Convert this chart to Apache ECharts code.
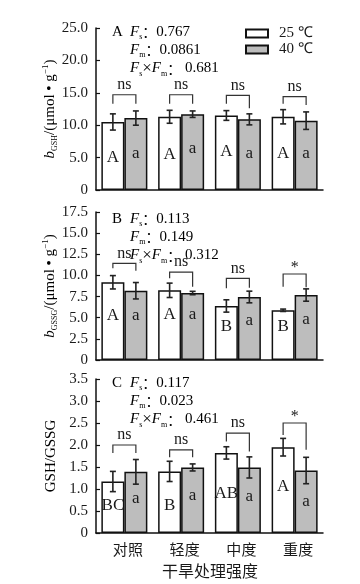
<!DOCTYPE html>
<html><head><meta charset="utf-8">
<script src="https://cdn.jsdelivr.net/npm/echarts@6/dist/echarts.min.js"></script>
<style>html,body{margin:0;padding:0;background:#fff}#c{width:360px;height:584px}</style>
</head><body><div id="c"></div>
<script>
// ---------- data ----------
const categories = ['对照', '轻度', '中度', '重度'];
const seriesNames = ['25 ℃', '40 ℃'];

// Panel A: GSH content
const gsh25 = [10.5, 11.3, 11.5, 11.3];
const gsh40 = [11.1, 11.7, 10.9, 10.7];
const gsh25Err = [1.25, 1.0, 0.75, 1.1];
const gsh40Err = [1.1, 0.5, 0.85, 1.35];
const gshBracketTop = [14.7, 14.7, 14.6, 14.4];
const gshBracketLeft = [13.3, 13.3, 13.3, 13.3];
const gshBracketRight = [13.3, 13.3, 12.6, 13.1];
const gshSig = ['ns', 'ns', 'ns', 'ns'];
const gshLetter25 = ['A', 'A', 'A', 'A'];
const gshLetter40 = ['a', 'a', 'a', 'a'];
const gshLetterY25 = [5.0, 5.4, 5.9, 5.6];
const gshLetterY40 = [5.7, 6.4, 5.7, 5.6];
const gshTicks = [0, 25, 5];
const gshStats = ['A', '0.767', '0.0861', '0.681'];

// Panel B: GSSG content
const gssg25 = [9.19, 8.24, 6.39, 5.88];
const gssg40 = [8.19, 7.92, 7.45, 7.68];
const gssg25Err = [0.79, 0.85, 0.73, 0.14];
const gssg40Err = [0.97, 0.2, 0.69, 0.73];
const gssgBracketTop = [11.43, 10.4, 9.66, 10.17];
const gssgBracketLeft = [10.84, 9.66, 8.48, 8.67];
const gssgBracketRight = [10.56, 8.67, 8.55, 8.6];
const gssgSig = ['ns', 'ns', 'ns', '*'];
const gssgLetter25 = ['A', 'A', 'B', 'B'];
const gssgLetter40 = ['a', 'a', 'a', 'a'];
const gssgLetterY25 = [5.3, 5.4, 3.9, 4.0];
const gssgLetterY40 = [5.2, 5.35, 4.7, 4.8];
const gssgTicks = [0, 17.5, 2.5];
const gssgStats = ['B', '0.113', '0.149', '0.312'];

// Panel C: GSH/GSSG ratio
const ratio25 = [1.17, 1.40, 1.82, 1.95];
const ratio40 = [1.39, 1.49, 1.49, 1.42];
const ratio25Err = [0.23, 0.23, 0.14, 0.2];
const ratio40Err = [0.28, 0.08, 0.24, 0.3];
const ratioBracketTop = [2.0, 1.89, 2.27, 2.5];
const ratioBracketLeft = [1.82, 1.72, 2.08, 2.23];
const ratioBracketRight = [1.82, 1.72, 1.85, 1.89];
const ratioSig = ['ns', 'ns', 'ns', '*'];
const ratioLetter25 = ['BC', 'B', 'AB', 'A'];
const ratioLetter40 = ['a', 'a', 'a', 'a'];
const ratioLetterY25 = [0.62, 0.63, 0.9, 1.05];
const ratioLetterY40 = [0.79, 0.85, 0.82, 0.71];
const ratioTicks = [0, 3.5, 0.5];
const ratioStats = ['C', '0.117', '0.023', '0.461'];

const xTitle = '干旱处理强度';

// ---------- build ----------
const BW = 23;
const INK = '#1a1a1a';
const SERIF = 'Liberation Serif';
const CJK = 'Noto Sans CJK SC';

const panels = [
  {v25: gsh25, v40: gsh40, e25: gsh25Err, e40: gsh40Err, bt: gshBracketTop, bl: gshBracketLeft, br: gshBracketRight, sig: gshSig, l25: gshLetter25, l40: gshLetter40, ly25: gshLetterY25, ly40: gshLetterY40, ticks: gshTicks},
  {v25: gssg25, v40: gssg40, e25: gssg25Err, e40: gssg40Err, bt: gssgBracketTop, bl: gssgBracketLeft, br: gssgBracketRight, sig: gssgSig, l25: gssgLetter25, l40: gssgLetter40, ly25: gssgLetterY25, ly40: gssgLetterY40, ticks: gssgTicks},
  {v25: ratio25, v40: ratio40, e25: ratio25Err, e40: ratio40Err, bt: ratioBracketTop, bl: ratioBracketLeft, br: ratioBracketRight, sig: ratioSig, l25: ratioLetter25, l40: ratioLetter40, ly25: ratioLetterY25, ly40: ratioLetterY40, ticks: ratioTicks}
];

const grid = [
  {left: 96, top: 28, width: 227, height: 162},
  {left: 96, top: 212, width: 227, height: 148},
  {left: 96, top: 379, width: 227, height: 154}
];

const xAxis = grid.map((g, i) => ({
  type: 'category', gridIndex: i, data: categories,
  axisLine: {show: true, lineStyle: {color: '#111', width: 1.5}},
  axisTick: {show: false},
  axisLabel: {show: i === 2, fontFamily: CJK, fontSize: 15, color: INK, margin: 9, padding: [0, 0, 0, 7]},
  splitLine: {show: false}
}));

const yAxis = panels.map((p, i) => ({
  type: 'value', gridIndex: i, min: p.ticks[0], max: p.ticks[1], interval: p.ticks[2],
  axisLine: {show: true, lineStyle: {color: '#111', width: 1.5}},
  axisTick: {show: true, inside: true, length: 4, lineStyle: {color: '#111', width: 1.2}},
  axisLabel: {fontFamily: SERIF, fontSize: 15, color: INK, margin: 8,
    formatter: v => v === 0 ? '0' : v.toFixed(1)},
  splitLine: {show: false}
}));

function errRenderer(errs, vals, side) {
  return function (params, api) {
    const i = params.dataIndex;
    const v = vals[i], e = errs[i];
    const c = api.coord([i, v]);
    const x = c[0] + side * BW / 2;
    const yT = api.coord([i, v + e])[1];
    const yB = api.coord([i, v - e])[1];
    const st = {stroke: '#222', lineWidth: 1.6};
    const cap = 3;
    return {type: 'group', children: [
      {type: 'line', shape: {x1: x, y1: yT, x2: x, y2: yB}, style: st},
      {type: 'line', shape: {x1: x - cap, y1: yT, x2: x + cap, y2: yT}, style: st},
      {type: 'line', shape: {x1: x - cap, y1: yB, x2: x + cap, y2: yB}, style: st}
    ]};
  };
}

function bracketRenderer(p) {
  return function (params, api) {
    const i = params.dataIndex;
    const c = api.coord([i, p.bt[i]]);
    const yl = api.coord([i, p.bl[i]])[1];
    const yr = api.coord([i, p.br[i]])[1];
    const xl = c[0] - BW / 2, xr = c[0] + BW / 2, yt = c[1];
    const isStar = p.sig[i] === '*';
    return {type: 'group', children: [
      {type: 'polyline', shape: {points: [[xl, yl], [xl, yt], [xr, yt], [xr, yr]]},
        style: {stroke: '#333', lineWidth: 1.2, fill: null}},
      {type: 'text', x: c[0], y: yt - (isStar ? 6 : 10),
        style: {text: p.sig[i], fontFamily: SERIF, fontSize: 16, fill: INK, align: 'center', verticalAlign: 'middle'}}
    ]};
  };
}

function letterRenderer(p) {
  return function (params, api) {
    const i = params.dataIndex;
    const c1 = api.coord([i, p.ly25[i]]);
    const c2 = api.coord([i, p.ly40[i]]);
    const st = {fontFamily: SERIF, fontSize: 17, fill: INK, align: 'center', verticalAlign: 'middle'};
    return {type: 'group', children: [
      {type: 'text', x: c1[0] - BW / 2, y: c1[1], style: Object.assign({text: p.l25[i]}, st)},
      {type: 'text', x: c2[0] + BW / 2, y: c2[1], style: Object.assign({text: p.l40[i]}, st)}
    ]};
  };
}

const series = [];
panels.forEach((p, k) => {
  series.push({
    name: seriesNames[0], type: 'bar', xAxisIndex: k, yAxisIndex: k, data: p.v25,
    barWidth: BW, barGap: '0%',
    itemStyle: {color: '#ffffff', borderColor: '#111', borderWidth: 1.5}
  });
  series.push({
    name: seriesNames[1], type: 'bar', xAxisIndex: k, yAxisIndex: k, data: p.v40,
    barWidth: BW, barGap: '0%',
    itemStyle: {color: '#bdbdbd', borderColor: '#111', borderWidth: 1.5}
  });
  series.push({type: 'custom', xAxisIndex: k, yAxisIndex: k, z: 5, silent: true,
    data: p.v25.map((v, i) => [i, v]), renderItem: errRenderer(p.e25, p.v25, -1)});
  series.push({type: 'custom', xAxisIndex: k, yAxisIndex: k, z: 5, silent: true,
    data: p.v40.map((v, i) => [i, v]), renderItem: errRenderer(p.e40, p.v40, 1)});
  series.push({type: 'custom', xAxisIndex: k, yAxisIndex: k, z: 6, silent: true,
    data: p.bt.map((v, i) => [i, v]), renderItem: bracketRenderer(p)});
  series.push({type: 'custom', xAxisIndex: k, yAxisIndex: k, z: 6, silent: true,
    data: p.ly25.map((v, i) => [i, v]), renderItem: letterRenderer(p)});
});

// ---------- texts ----------
const base = {fontFamily: SERIF, fontSize: 15, color: INK};
const rich = {
  t: Object.assign({}, base, {lineHeight: 18}),
  i: Object.assign({}, base, {fontStyle: 'italic', lineHeight: 18}),
  s: Object.assign({}, base, {fontSize: 8, verticalAlign: 'bottom'}),
  p: Object.assign({}, base, {fontSize: 9, verticalAlign: 'top'}),
  x: Object.assign({}, base, {fontSize: 17, lineHeight: 18}),
  c: {fontFamily: CJK, fontSize: 14, color: INK, lineHeight: 18}
};
function txt(x, y, text, extra) {
  return Object.assign({type: 'text', x: x, y: y, silent: true,
    style: {text: text, rich: rich, align: 'left', verticalAlign: 'middle'}}, extra || {});
}
const statTops = [32, 219, 383];
const statsAll = [gshStats, gssgStats, ratioStats];
const graphic = [];
statsAll.forEach((s, k) => {
  const y = statTops[k];
  graphic.push(txt(112, y, '{t|' + s[0] + '}'));
  graphic.push(txt(130, y, '{i|F}{s|s}{c|：}{t|' + s[1] + '}'));
  graphic.push(txt(130, y + 18, '{i|F}{s|m}{c|：}{t|' + s[2] + '}'));
  graphic.push(txt(130, y + 36.5, '{i|F}{s|s}{x|×}{i|F}{s|m}{c|：}{t| ' + s[3] + '}'));
});
function ytitle(x, y, text) {
  return {type: 'text', x: x, y: y, rotation: Math.PI / 2, silent: true,
    style: {text: text, rich: rich, align: 'center', verticalAlign: 'middle'}};
}
graphic.push(ytitle(50, 109, '{i|b}{s|GSH}{t|/(μmol • g}{p|−1}{t|)}'));
graphic.push(ytitle(50, 286, '{i|b}{s|GSSG}{t|/(μmol • g}{p|−1}{t|)}'));
graphic.push(ytitle(51, 456, '{t|GSH/GSSG}'));
graphic.push({type: 'text', x: 210, y: 571, silent: true,
  style: {text: xTitle, fontFamily: CJK, fontSize: 16, fill: INK, align: 'center', verticalAlign: 'middle'}});

const chart = echarts.init(document.getElementById('c'));
chart.setOption({
  backgroundColor: '#ffffff',
  animation: false,
  legend: {
    data: seriesNames, orient: 'vertical', left: 245, top: 26,
    itemWidth: 22, itemHeight: 8, itemGap: 1, padding: 0, icon: 'rect',
    textStyle: {fontFamily: SERIF, fontSize: 15, color: INK, lineHeight: 15, padding: [0, 0, 0, 6]}
  },
  grid: grid, xAxis: xAxis, yAxis: yAxis, series: series, graphic: graphic
});
</script></body></html>
